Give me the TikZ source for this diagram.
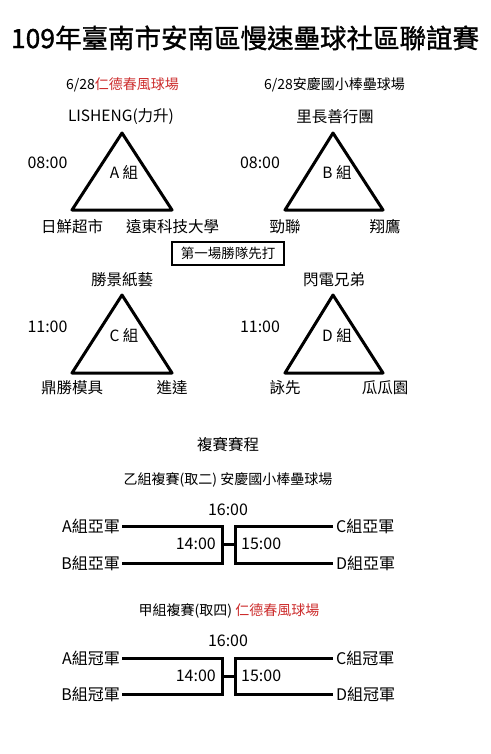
\documentclass[tikz,border=0pt]{standalone}
\usepackage{fontspec}
\setmainfont{Noto Sans CJK TC}
\newfontfamily\titlefont[FakeBold=1.2]{Noto Sans CJK TC}
\definecolor{venue}{RGB}{205,45,45}
\begin{document}
\begin{tikzpicture}[x=1pt,y=-1pt,
  title/.style={font=\titlefont\fontsize{26.5}{30}\selectfont, inner sep=0pt},
  sub/.style={font=\fontsize{14}{16}\selectfont, inner sep=0pt},
  team/.style={font=\fontsize{15.5}{18}\selectfont, inner sep=0pt},
  tm/.style={font=\fontsize{16}{18}\selectfont, inner sep=0pt},
  grp/.style={font=\fontsize{15.5}{18}\selectfont, inner sep=0pt},
  tri/.style={line width=3pt, line join=round},
  brk/.style={line width=3pt},
  note/.style={draw, line width=1.3pt, font=\fontsize{13.5}{16}\selectfont, minimum width=112pt, minimum height=23pt, inner sep=0pt},
  sl/.style={font=\fontsize{16}{18}\selectfont, inner sep=0pt}]
\useasboundingbox[fill=white] (0,0) rectangle (490,754);

% title
\node[title] (t) at (245,38) {109年臺南市安南區慢速壘球社區聯誼賽};

% venues
\node[sub] (v1) at (122.5,85) {6/28\textcolor{venue}{仁德春風球場}};
\node[sub] (v2) at (334.5,85) {6/28安慶國小棒壘球場};

% group A
\node[team] (a0) at (121,117) {LISHENG(力升)};
\coordinate (at) at (122,133);
\coordinate (al) at (72,210);
\coordinate (ar) at (172,210);
\draw[tri] (at) -- (al) -- (ar) -- cycle;
\node[tm] (atime) at (47.5,163) {08:00};
\node[grp] (ag) at (124,172) {A 組};
\node[team] (a1) at (72,227) {日鮮超市};
\node[team] (a2) at (172.5,227) {遠東科技大學};

% group B
\node[team] (b0) at (335,117) {里長善行團};
\coordinate (bt) at (333,133);
\coordinate (bl) at (285,210);
\coordinate (br) at (383,210);
\draw[tri] (bt) -- (bl) -- (br) -- cycle;
\node[tm] (btime) at (260,163) {08:00};
\node[grp] (bg) at (337,172) {B 組};
\node[team] (b1) at (285,227) {勁聯};
\node[team] (b2) at (385,227) {翔鷹};

% note
\node[note] (n) at (228,253.5) {第一場勝隊先打};

% group C
\node[team] (c0) at (122,280) {勝景紙藝};
\coordinate (ct) at (122,295);
\coordinate (cl) at (72,373);
\coordinate (cr) at (172,373);
\draw[tri] (ct) -- (cl) -- (cr) -- cycle;
\node[tm] (ctime) at (47.5,327) {11:00};
\node[grp] (cg) at (124,335) {C 組};
\node[team] (c1) at (72,388) {鼎勝模具};
\node[team] (c2) at (172,388) {進達};

% group D
\node[team] (d0) at (334,280) {閃電兄弟};
\coordinate (dt) at (333,295);
\coordinate (dl) at (285,373);
\coordinate (dr) at (383,373);
\draw[tri] (dt) -- (dl) -- (dr) -- cycle;
\node[tm] (dtime) at (260,327) {11:00};
\node[grp] (dg) at (337,335) {D 組};
\node[team] (d1) at (285,388) {詠先};
\node[team] (d2) at (385,388) {瓜瓜園};

% playoffs
\node[team] (po) at (228,445) {複賽賽程};

% bracket 1
\node[sub] (h1) at (228,480) {乙組複賽(取二) 安慶國小棒壘球場};
\node[tm] (f1) at (228,510) {16:00};
\node[sl, anchor=east] (p1a) at (120,526) {A組亞軍};
\node[sl, anchor=east] (p1b) at (120,563) {B組亞軍};
\node[sl, anchor=west] (p1c) at (336,526) {C組亞軍};
\node[sl, anchor=west] (p1d) at (336,563) {D組亞軍};
\coordinate (l1t) at (222,526);
\coordinate (l1b) at (222,563);
\coordinate (r1t) at (235,526);
\coordinate (r1b) at (235,563);
\draw[brk] ([xshift=2pt]p1a.east) -- (l1t) -- (l1b) -- ([xshift=2pt]p1b.east);
\draw[brk] ([xshift=-3pt]p1c.west) -- (r1t) -- (r1b) -- ([xshift=-3pt]p1d.west);
\draw[brk] (222,544.5) -- (235,544.5);
\node[tm, anchor=east] (s1a) at (216,544) {14:00};
\node[tm, anchor=west] (s1b) at (241,544) {15:00};

% bracket 2
\node[sub] (h2) at (229,611) {甲組複賽(取四) \textcolor{venue}{仁德春風球場}};
\node[tm] (f2) at (228,641) {16:00};
\node[sl, anchor=east] (p2a) at (120,658) {A組冠軍};
\node[sl, anchor=east] (p2b) at (120,694) {B組冠軍};
\node[sl, anchor=west] (p2c) at (336,658) {C組冠軍};
\node[sl, anchor=west] (p2d) at (336,694) {D組冠軍};
\coordinate (l2t) at (222,658);
\coordinate (l2b) at (222,694);
\coordinate (r2t) at (235,658);
\coordinate (r2b) at (235,694);
\draw[brk] ([xshift=2pt]p2a.east) -- (l2t) -- (l2b) -- ([xshift=2pt]p2b.east);
\draw[brk] ([xshift=-3pt]p2c.west) -- (r2t) -- (r2b) -- ([xshift=-3pt]p2d.west);
\draw[brk] (222,676) -- (235,676);
\node[tm, anchor=east] (s2a) at (216,676) {14:00};
\node[tm, anchor=west] (s2b) at (241,676) {15:00};
\end{tikzpicture}
\end{document}
